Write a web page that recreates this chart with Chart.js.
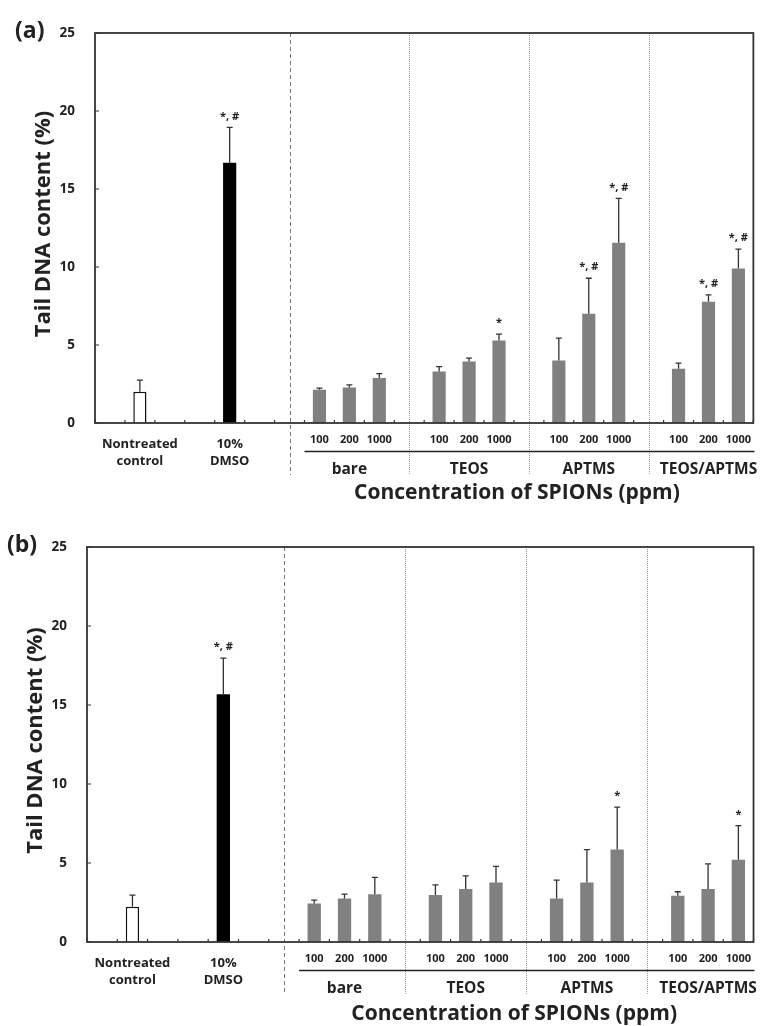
<!DOCTYPE html>
<html lang="en">
<head>
    <meta charset="UTF-8">
    <title>Tail DNA content</title>
    <script src="https://cdn.jsdelivr.net/npm/chart.js"></script>
    <style>
        body {
            margin: 0;
            padding: 0;
            background: #fff;
        }
        .panel {
            position: absolute;
            left: 0;
        }
    </style>
</head>
<body>
    <div class="panel" style="top:0"><canvas id="chartA" width="764" height="520"></canvas></div>
    <div class="panel" style="top:500px"><canvas id="chartB" width="764" height="526"></canvas></div>

    <script>
        // categories
        var controls = [['Nontreated', 'control'], ['10%', 'DMSO']];
        var coatings = ['bare', 'TEOS', 'APTMS', 'TEOS/APTMS'];
        var doses = ['100', '200', '1000'];
        var yTicks = [0, 5, 10, 15, 20, 25];

        // order: control, DMSO, then bare/TEOS/APTMS/TEOS-APTMS x 100/200/1000
        var meanA = [2.0, 16.68, 2.13, 2.28, 2.88, 3.30, 3.94, 5.29, 4.01, 7.00, 11.56, 3.48, 7.78, 9.90];
        var errA  = [0.75, 2.27, 0.11, 0.17, 0.28, 0.32, 0.22, 0.41, 1.43, 2.28, 2.84, 0.36, 0.43, 1.24];
        var markA = ['', '*, #', '', '', '', '', '', '*', '', '*, #', '*, #', '', '*, #', '*, #'];

        var meanB = [2.23, 15.68, 2.44, 2.75, 3.03, 2.97, 3.35, 3.77, 2.75, 3.77, 5.85, 2.92, 3.35, 5.21];
        var errB  = [0.74, 2.29, 0.21, 0.28, 1.06, 0.65, 0.84, 1.02, 1.17, 2.08, 2.69, 0.26, 1.59, 2.16];
        var markB = ['', '*, #', '', '', '', '', '', '', '', '', '*', '', '', '*'];

        // 22 slots on the category axis: controls in 1 and 4, groups of 3 after separators at 6,10,14,18
        var NSLOT = 22;
        function slotOf(k) {
            if (k === 0) return 1;
            if (k === 1) return 4;
            var j = k - 2;
            return 7 + Math.floor(j / 3) * 4 + (j % 3);
        }

        function spread(values, empty) {
            var out = [];
            for (var i = 0; i < NSLOT; i++) out.push(empty);
            values.forEach(function (v, k) { out[slotOf(k)] = v; });
            return out;
        }

        var slotLabels = spread([controls[0], controls[1]].concat(doses, doses, doses, doses), '');

        var FONT = "'Open Sans', 'Noto Sans', sans-serif";
        Chart.defaults.font.family = FONT;

        var decor = {
            id: 'decor',
            afterDatasetsDraw: function (chart, args, opts) {
                var c = chart.ctx, a = chart.chartArea;
                var x = chart.scales.x, y = chart.scales.y;
                var half = (x.getPixelForValue(1) - x.getPixelForValue(0)) / 2;
                var meta = chart.getDatasetMeta(0);

                c.save();
                // separators
                for (var g = 0; g < 4; g++) {
                    var sx = Math.round(x.getPixelForValue(6 + 4 * g)) + 0.5;
                    c.beginPath();
                    if (g === 0) {
                        c.setLineDash([4, 3]);
                        c.strokeStyle = '#777';
                    } else {
                        c.setLineDash([1, 1]);
                        c.strokeStyle = '#999';
                    }
                    c.lineWidth = 1;
                    c.moveTo(sx, a.top);
                    c.lineTo(sx, a.bottom + 52);
                    c.stroke();
                }
                c.setLineDash([]);

                // error bars and marks
                c.strokeStyle = '#333';
                c.lineWidth = 1.3;
                c.fillStyle = '#222';
                c.textAlign = 'center';
                c.textBaseline = 'middle';
                c.font = 'bold 11px ' + FONT;
                opts.mean.forEach(function (m, k) {
                    var s = slotOf(k);
                    var bx = meta.data[s].x;
                    var top = y.getPixelForValue(m + opts.err[k]);
                    var base = y.getPixelForValue(m);
                    c.beginPath();
                    c.moveTo(bx, base);
                    c.lineTo(bx, top);
                    c.moveTo(bx - 3, top);
                    c.lineTo(bx + 3, top);
                    c.stroke();
                    if (opts.mark[k]) c.fillText(opts.mark[k], bx, top - 11);
                });

                // frame
                c.strokeStyle = '#333';
                c.lineWidth = 1.8;
                c.strokeRect(a.left, a.top, a.right - a.left, a.bottom - a.top);

                // inward ticks
                c.lineWidth = 1.2;
                c.beginPath();
                for (var i = 0; i <= NSLOT; i++) {
                    var tx = x.getPixelForValue(0) - half + i * 2 * half;
                    c.moveTo(tx, a.bottom);
                    c.lineTo(tx, a.bottom - 3);
                }
                yTicks.forEach(function (v) {
                    var ty = y.getPixelForValue(v);
                    c.moveTo(a.left, ty);
                    c.lineTo(a.left + 4, ty);
                });
                c.stroke();

                // line under the ppm labels
                c.lineWidth = 1.5;
                c.strokeStyle = '#222';
                c.beginPath();
                c.moveTo(x.getPixelForValue(7) - half, a.bottom + 28.5);
                c.lineTo(a.right + 1, a.bottom + 28.5);
                c.stroke();

                // coating names
                c.font = 'bold 15.5px ' + FONT;
                coatings.forEach(function (name, g) {
                    c.fillText(name, x.getPixelForValue(8 + 4 * g), a.bottom + 47);
                });

                // axis titles
                c.font = 'bold 21px ' + FONT;
                c.fillText('Concentration of SPIONs (ppm)', x.getPixelForValue(13.6), a.bottom + opts.titleY);

                c.save();
                c.translate(a.left - 51, (a.top + a.bottom) / 2 - 4);
                c.rotate(-Math.PI / 2);
                c.font = 'bold 22px ' + FONT;
                c.fillText('Tail DNA content (%)', 0, 0);
                c.restore();

                // panel letter
                c.textAlign = 'left';
                c.font = 'bold 23px ' + FONT;
                c.fillText(opts.letter, opts.letterX, a.top - 2);
                c.restore();
            }
        };

        function makePanel(id, mean, err, mark, letter, letterX, titleY, pad, yWidth, xHeight) {
            var colors = spread(mean.map(function (v, k) {
                return k === 0 ? '#ffffff' : (k === 1 ? '#000000' : '#808080');
            }), 'rgba(0,0,0,0)');
            var borders = spread(mean.map(function (v, k) { return k === 0 ? 1.5 : 0; }), 0);

            return new Chart(document.getElementById(id), {
                type: 'bar',
                data: {
                    labels: slotLabels,
                    datasets: [{
                        data: spread(mean, null),
                        backgroundColor: colors,
                        borderColor: '#111',
                        borderWidth: borders,
                        categoryPercentage: 1,
                        barPercentage: 0.44
                    }]
                },
                options: {
                    responsive: false,
                    animation: false,
                    layout: { padding: pad },
                    plugins: {
                        legend: { display: false },
                        tooltip: { enabled: false },
                        decor: { mean: mean, err: err, mark: mark, letter: letter, letterX: letterX, titleY: titleY }
                    },
                    scales: {
                        x: {
                            grid: { display: false, drawTicks: false },
                            border: { display: false },
                            afterFit: function (s) { s.height = xHeight; },
                            ticks: {
                                autoSkip: false,
                                maxRotation: 0,
                                padding: 13,
                                color: '#222',
                                font: function (ctx) {
                                    if (ctx.index === 1 || ctx.index === 4) {
                                        return { size: 13, weight: 'bold', lineHeight: '17px' };
                                    }
                                    return { size: 11, weight: 'bold', lineHeight: '8px' };
                                }
                            }
                        },
                        y: {
                            min: 0,
                            max: 25,
                            grid: { display: false, drawTicks: false },
                            border: { display: false },
                            afterFit: function (s) { s.width = yWidth; },
                            afterBuildTicks: function (s) {
                                s.ticks = yTicks.map(function (v) { return { value: v }; });
                            },
                            ticks: {
                                padding: 20,
                                color: '#222',
                                font: { size: 13.5, weight: 'bold' }
                            }
                        }
                    }
                },
                plugins: [decor]
            });
        }

        makePanel('chartA', meanA, errA, markA, '(a)', 15, 70, { top: 33, right: 1, left: 0, bottom: 0 }, 95, 97);
        makePanel('chartB', meanB, errB, markB, '(b)', 7, 72, { top: 47, right: 2, left: 0, bottom: 0 }, 87, 84);
    </script>
</body>
</html>
